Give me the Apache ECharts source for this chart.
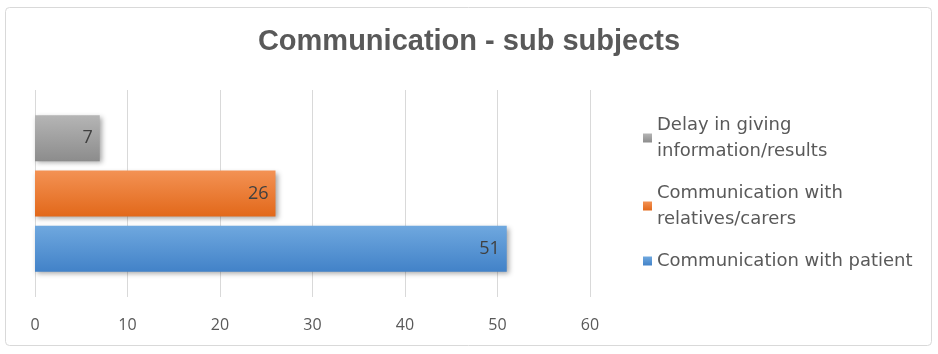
<!DOCTYPE html>
<html>
<head>
<meta charset="utf-8">
<script src="https://cdn.jsdelivr.net/npm/echarts@6/dist/echarts.min.js"></script>
<style>
  html, body { margin: 0; padding: 0; background: #fff; }
  #chart { width: 938px; height: 354px; }
</style>
</head>
<body>
<div id="chart"></div>
<script>
// Sub-subject counts for the "Communication" complaint category
const seriesNames = [
  'Delay in giving\ninformation/results',
  'Communication with\nrelatives/carers',
  'Communication with patient'
];
const seriesValues = [7, 26, 51];
const xTicks = [0, 10, 20, 30, 40, 50, 60];

const gradients = [
  ['#b5b5b5', '#8c8c8c'],
  ['#f39254', '#e2681a'],
  ['#6fa8df', '#4282c8']
];

const chart = echarts.init(document.getElementById('chart'), null, { renderer: 'canvas' });

const series = seriesNames.map((name, i) => ({
  name: name,
  type: 'bar',
  data: [seriesValues[i]],
  barWidth: 46,
  barGap: '20%',
  itemStyle: {
    color: new echarts.graphic.LinearGradient(0, 0, 0, 1, [
      { offset: 0, color: gradients[i][0] },
      { offset: 1, color: gradients[i][1] }
    ]),
    shadowColor: 'rgba(0,0,0,0.35)',
    shadowBlur: 5,
    shadowOffsetX: 2,
    shadowOffsetY: 2
  },
  label: {
    show: true,
    position: 'insideRight',
    distance: 7,
    color: '#404040',
    fontFamily: 'Open Sans',
    fontSize: 18
  },
  legendHoverLink: false
}));

chart.setOption({
  animation: false,
  backgroundColor: '#ffffff',
  title: {
    text: 'Communication - sub subjects',
    left: 'center',
    top: 22,
    textStyle: {
      color: '#595959',
      fontFamily: 'Liberation Sans',
      fontWeight: 'bold',
      fontSize: 29
    }
  },
  legend: {
    orient: 'vertical',
    left: 638,
    top: 107,
    icon: 'rect',
    itemWidth: 9,
    itemHeight: 9,
    itemGap: 16,
    data: seriesNames.slice(),
    textStyle: {
      color: '#595959',
      fontFamily: 'DejaVu Sans',
      fontSize: 18,
      lineHeight: 26
    }
  },
  grid: {
    left: 35,
    right: 348,
    top: 90,
    bottom: 57,
    containLabel: false
  },
  xAxis: {
    type: 'value',
    min: xTicks[0],
    max: xTicks[xTicks.length - 1],
    interval: 10,
    axisLine: { show: false },
    axisTick: { show: false },
    axisLabel: {
      color: '#595959',
      fontFamily: 'Open Sans',
      fontSize: 16,
      margin: 20
    },
    splitLine: { lineStyle: { color: '#d9d9d9', width: 1 } }
  },
  yAxis: {
    type: 'category',
    data: [''],
    axisLine: { show: false },
    axisTick: { show: false },
    axisLabel: { show: false }
  },
  series: series,
  graphic: [{
    type: 'rect',
    shape: { x: 5.5, y: 7.5, width: 926, height: 338, r: 4 },
    style: { fill: 'none', stroke: '#d9d9d9', lineWidth: 1 },
    silent: true
  }]
});
</script>
</body>
</html>
